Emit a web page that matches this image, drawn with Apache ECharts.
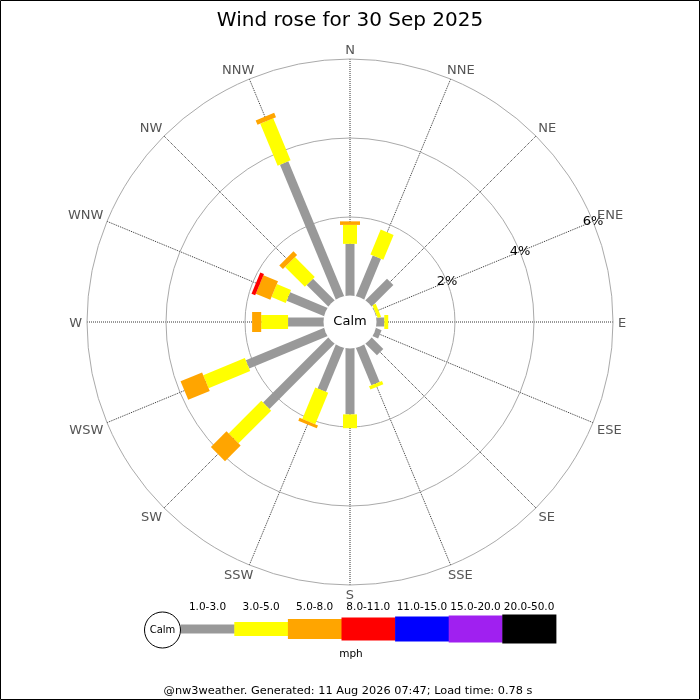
<!DOCTYPE html>
<html>
<head>
<meta charset="utf-8">
<title>Wind rose</title>
<script src="https://cdn.jsdelivr.net/npm/echarts@6/dist/echarts.min.js"></script>
<style>
html,body{margin:0;padding:0;background:#fff;}
#rose{width:700px;height:700px;}
</style>
</head>
<body>
<div id="rose"></div>
<script>
/*
* wind rose data, % of the day, per direction (N first, clockwise)
*/
var directions = ['N','NNE','NE','ENE','E','ESE','SE','SSE','S','SSW','SW','WSW','W','WNW','NW','NNW'];
var speedBands = ['1.0-3.0','3.0-5.0','5.0-8.0','8.0-11.0','11.0-15.0','15.0-20.0','20.0-50.0'];
var band1 = [1.32,1.12,0.78,0.03,0.21,0.16,0.42,1.03,1.68,1.21,2.34,2.15,0.91,1.03,0.78,3.70];
var band2 = [0.48,0.68,0,0.09,0.10,0,0,0.09,0.35,0.86,1.17,1.14,0.68,0.39,0.71,1.15];
var band3 = [0.09,0,0,0,0,0,0,0,0,0.08,0.56,0.59,0.23,0.40,0.13,0.12];
var band4 = [0,0,0,0,0,0,0,0,0,0,0,0,0,0.10,0,0];
var band5 = [0,0,0,0,0,0,0,0,0,0,0,0,0,0,0,0];
var band6 = [0,0,0,0,0,0,0,0,0,0,0,0,0,0,0,0];
var band7 = [0,0,0,0,0,0,0,0,0,0,0,0,0,0,0,0];
var radiusTicks = [0, 6, 2];   // min, max, interval (%)
var unitLabel = 'mph';
var titleText = 'Wind rose for 30 Sep 2025';
var footerText = '@nw3weather. Generated: 11 Aug 2026 07:47; Load time: 0.78 s';

var bands = [band1, band2, band3, band4, band5, band6, band7];
var bandColors = ['#999999','#ffff00','#ffa500','#ff0000','#0000ff','#a020f0','#000000'];
var bandWidths = [9, 14, 20, 23, 25, 27, 29];
var FONT = 'DejaVu Sans';
var CX = 350, CY = 322;

// the radius axis sits at the start angle, so 0 deg on the angle axis is ENE
var SHIFT = 3;
var STEP = 360 / directions.length;
function dirAngle(i){ return ((i - SHIFT + directions.length) % directions.length) * STEP; }

/*
* bar drawn as a straight rectangle of constant pixel width
*/
function barRenderer(width, color){
	return function(params, api){
		var r0 = api.value(0), ang = api.value(1), r1 = api.value(2);
		if (!(r1 > r0)) return;
		var p0 = api.coord([r0, ang]);
		var p1 = api.coord([r1, ang]);
		var dx = p1[0]-p0[0], dy = p1[1]-p0[1];
		var len = Math.sqrt(dx*dx+dy*dy) || 1;
		var nx = -dy/len*width/2, ny = dx/len*width/2;
		return {
			type : 'polygon',
			shape : {points : [[p0[0]+nx,p0[1]+ny],[p1[0]+nx,p1[1]+ny],[p1[0]-nx,p1[1]-ny],[p0[0]-nx,p0[1]-ny]]},
			style : {fill : color}
		};
	};
}

/*
* compass names just outside the outer ring
*/
var measureCtx = document.createElement('canvas').getContext('2d');
measureCtx.font = '13px "' + FONT + '"';
function sgn(v){ return Math.abs(v) < 1e-6 ? 0 : (v > 0 ? 1 : -1); }
function compassRenderer(params, api){
	var name = directions[api.value(2)];
	var ang = api.value(1);
	var p = api.coord([api.value(0), ang]);
	var q = api.coord([radiusTicks[0], ang]);
	var ux = p[0]-q[0], uy = p[1]-q[1];
	var len = Math.sqrt(ux*ux+uy*uy) || 1;
	ux /= len; uy /= len;
	var hw = measureCtx.measureText(name).width/2, hh = 4.75;
	var ox = sgn(ux)*(5 + hw*Math.abs(ux));
	var oy = sgn(uy)*(5 + hh*Math.abs(uy));
	return {
		type : 'text',
		x : p[0] + ox,
		y : p[1] + oy + 1.3,
		style : {text:name, fontSize:13, fontFamily:FONT, fill:'#555', align:'center', verticalAlign:'middle'}
	};
}

var series = [];
var base = directions.map(function(){ return 0; });
for (var b=0; b<bands.length; b++){
	var items = [];
	for (var i=0; i<directions.length; i++){
		var v = bands[b][i];
		items.push([base[i], dirAngle(i), base[i]+v]);
		base[i] += v;
	}
	series.push({
		name : speedBands[b],
		type : 'custom',
		coordinateSystem : 'polar',
		silent : true,
		renderItem : barRenderer(bandWidths[b], bandColors[b]),
		data : items,
		z : 3
	});
}
series.push({
	name : 'compass',
	type : 'custom',
	coordinateSystem : 'polar',
	silent : true,
	renderItem : compassRenderer,
	data : directions.map(function(n, i){ return [radiusTicks[1], dirAngle(i), i]; }),
	z : 4
});

/*
* legend, calm circle, frame
*/
var graphics = [
	{type:'rect', shape:{x:0.5,y:0.5,width:699,height:699}, style:{fill:'none',stroke:'#000',lineWidth:1}, z:200},
	{type:'circle', shape:{cx:CX,cy:CY,r:26.5}, style:{fill:'#fff'}, z:100},
	{type:'text', x:CX, y:CY, style:{text:'Calm',fontSize:13,fontFamily:FONT,fill:'#000',align:'center',verticalAlign:'middle'}, z:101},
	{type:'circle', shape:{cx:162.5,cy:630,r:18}, style:{fill:'#fff',stroke:'#000',lineWidth:1}, z:100},
	{type:'text', x:162.5, y:630, style:{text:'Calm',fontSize:10,fontFamily:FONT,fill:'#000',align:'center',verticalAlign:'middle'}, z:101},
	{type:'text', x:351, y:654, style:{text:unitLabel,fontSize:10.5,fontFamily:FONT,fill:'#000',align:'center',verticalAlign:'middle'}, z:101},
	{type:'text', x:348, y:691, style:{text:footerText,fontSize:11.3,fontFamily:FONT,fill:'#000',align:'center',verticalAlign:'middle'}, z:101}
];
var LEG_X = 180.7, LEG_W = 53.6, LEG_Y = 629;
for (var k=0; k<speedBands.length; k++){
	graphics.push({type:'rect', shape:{x:LEG_X+k*LEG_W, y:LEG_Y-bandWidths[k]/2, width:LEG_W+0.5, height:bandWidths[k]}, style:{fill:bandColors[k]}, z:90});
	graphics.push({type:'text', x:LEG_X+k*LEG_W+LEG_W/2, y:607, style:{text:speedBands[k],fontSize:10.5,fontFamily:FONT,fill:'#000',align:'center',verticalAlign:'middle'}, z:101});
}

var optionRose = {
	backgroundColor : '#fff',
	animation : false,
	textStyle : {fontFamily : FONT},
	title : {
		text : titleText,
		left : 'center',
		top : 6,
		textStyle : {fontSize : 20, fontWeight : 'normal', color : '#000', fontFamily : FONT}
	},
	polar : {
		center : [CX, CY],
		radius : [26, 263]
	},
	angleAxis : {
		type : 'value',
		min : 0,
		max : 360,
		interval : STEP,
		startAngle : 22.5,
		clockwise : true,
		axisLine : {show : false},
		axisTick : {show : false},
		axisLabel : {show : false},
		splitLine : {show : true, lineStyle : {color : '#333', width : 1, type : 'dotted'}},
		z : 1
	},
	radiusAxis : {
		type : 'value',
		min : radiusTicks[0],
		max : radiusTicks[1],
		interval : radiusTicks[2],
		axisLine : {show : false},
		axisTick : {show : false},
		axisLabel : {
			margin : 0,
			align : 'center',
			verticalAlign : 'middle',
			color : '#000',
			fontSize : 13,
			fontFamily : FONT,
			formatter : function(v){ return v ? v + '%' : ''; }
		},
		splitLine : {show : true, lineStyle : {color : '#aaa', width : 1}},
		z : 2
	},
	graphic : graphics,
	series : series
};

var myRose = echarts.init(document.getElementById('rose'));
myRose.setOption(optionRose);
</script>
</body>
</html>
